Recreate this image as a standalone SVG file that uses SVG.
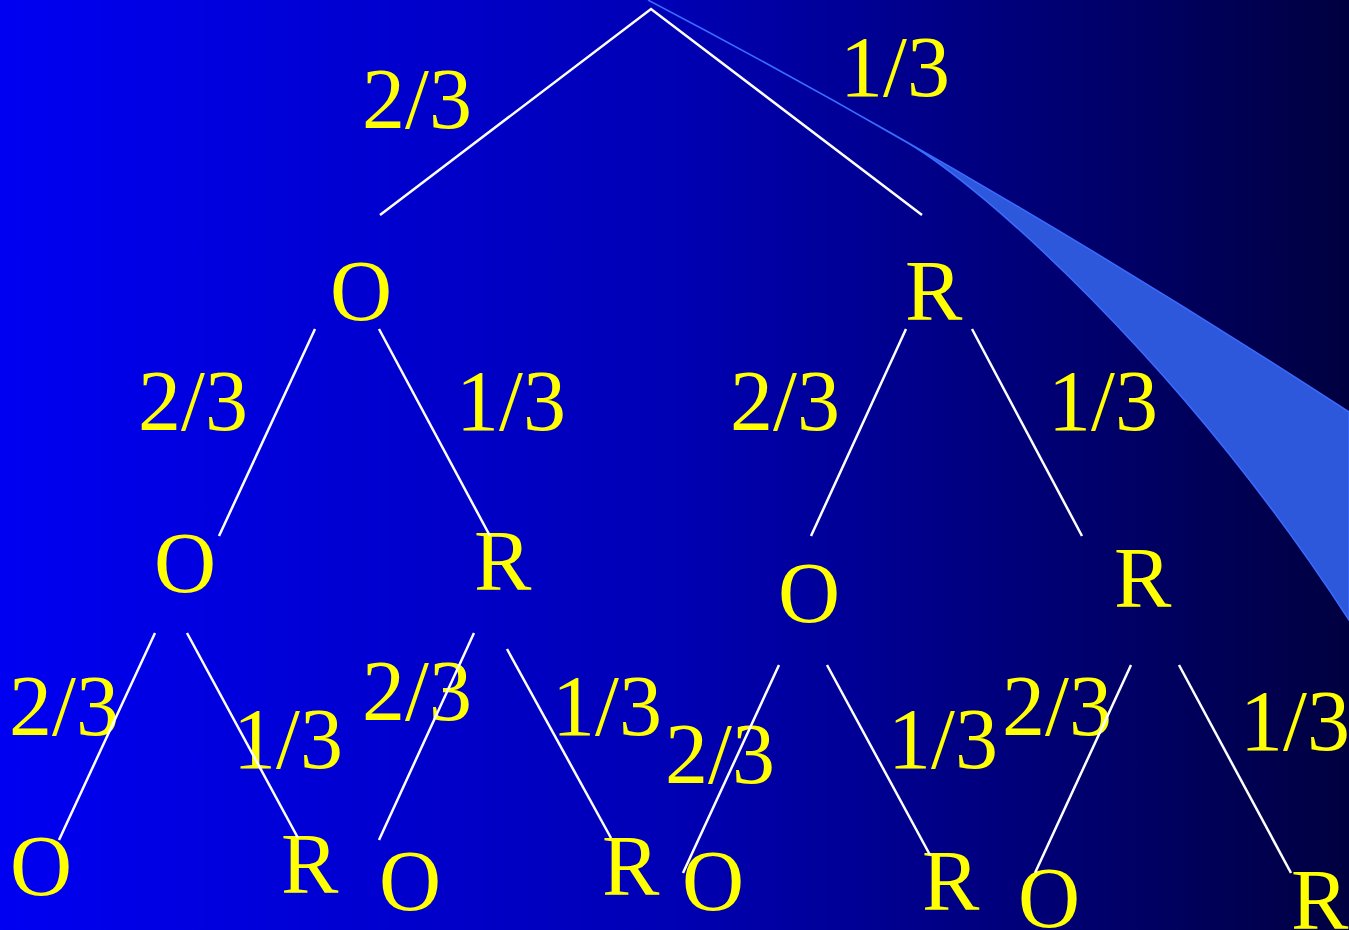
<svg xmlns="http://www.w3.org/2000/svg" width="1349" height="930" viewBox="0 0 1349 930">
<defs>
<linearGradient id="bg" x1="0" y1="0" x2="1" y2="0">
<stop offset="0" stop-color="#0000F2"/>
<stop offset="0.5" stop-color="#0000B4"/>
<stop offset="1" stop-color="#000040"/>
</linearGradient>
</defs>
<style>
.t{font-family:"Liberation Serif","Times New Roman",serif;font-size:86px;fill:#FFFF00}
.c line,.c polyline{stroke:#FFFFFF;stroke-width:2.5;fill:none}
</style>
<rect x="0" y="0" width="1349" height="930" fill="url(#bg)"/>
<path d="M648,0 Q1000,185 1349,412 L1349,620 C1180,360 980,185 908,143 Q778,68 648,0 Z" fill="#2E58DC" stroke="#3A6BFF" stroke-width="1.5"/>
<g id="n-root-labels">
<text class="t" x="362" y="128">2/3</text>
<text class="t" x="840" y="96">1/3</text>
</g>
<g id="n-O1"><text class="t" x="330" y="320">O</text></g>
<g id="n-R1"><text class="t" x="905" y="320">R</text></g>
<g id="l1-labels">
<text class="t" x="138" y="430">2/3</text>
<text class="t" x="456" y="430">1/3</text>
<text class="t" x="730" y="430">2/3</text>
<text class="t" x="1048" y="430">1/3</text>
</g>
<g id="n-OO"><text class="t" x="154" y="592">O</text></g>
<g id="n-OR"><text class="t" x="474" y="590">R</text></g>
<g id="n-RO"><text class="t" x="778" y="622">O</text></g>
<g id="n-RR"><text class="t" x="1114" y="607">R</text></g>
<g id="l2-labels">
<text class="t" x="9" y="735">2/3</text>
<text class="t" x="233" y="768">1/3</text>
<text class="t" x="362" y="720">2/3</text>
<text class="t" x="552" y="735">1/3</text>
<text class="t" x="665" y="783">2/3</text>
<text class="t" x="888" y="768">1/3</text>
<text class="t" x="1002" y="735">2/3</text>
<text class="t" x="1240" y="750">1/3</text>
</g>
<g id="n-OOO"><text class="t" x="10" y="895">O</text></g>
<g id="n-OOR"><text class="t" x="281" y="893">R</text></g>
<g id="n-ORO"><text class="t" x="379" y="910">O</text></g>
<g id="n-ORR"><text class="t" x="602" y="895">R</text></g>
<g id="n-ROO"><text class="t" x="682" y="910">O</text></g>
<g id="n-ROR"><text class="t" x="922" y="910">R</text></g>
<g id="n-RRO"><text class="t" x="1018" y="927">O</text></g>
<g id="n-RRR"><text class="t" x="1291" y="929">R</text></g>
<g id="connectors" class="c">
<polyline points="380,215 651,9 922,215"/>
<line x1="315" y1="329" x2="219" y2="536"/>
<line x1="379" y1="329" x2="490" y2="536"/>
<line x1="906" y1="329" x2="811" y2="536"/>
<line x1="972" y1="329" x2="1082" y2="536"/>
<line x1="155" y1="633" x2="59" y2="840"/>
<line x1="187" y1="633" x2="298" y2="838"/>
<line x1="474" y1="633" x2="379" y2="840"/>
<line x1="507" y1="649" x2="611" y2="838"/>
<line x1="779" y1="665" x2="683" y2="873"/>
<line x1="827" y1="665" x2="930" y2="855"/>
<line x1="1131" y1="665" x2="1035" y2="873"/>
<line x1="1179" y1="665" x2="1291" y2="873"/>
</g>
</svg>
